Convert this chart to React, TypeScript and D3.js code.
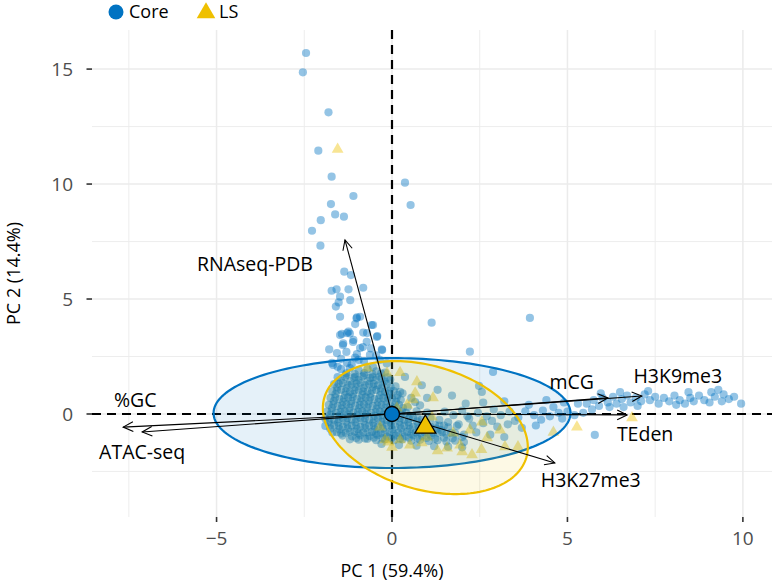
import React from 'react';
import * as d3 from 'd3';

// PCA scores (PC1, PC2)
const coreOutliers: [number, number][] = [
  [-2.45, 15.7], [-2.54, 14.86], [-1.81, 13.12], [-2.1, 11.45], [-1.72, 10.32], [0.37, 10.06],
  [-1.1, 9.48], [0.53, 9.09], [-1.74, 9.13], [-1.62, 8.68], [-1.37, 8.58], [-2.03, 8.43],
  [-2.28, 7.97], [-2.04, 7.32], [-1.36, 6.19], [-1.17, 6.04], [1.13, 3.97], [3.93, 4.18],
  [2.22, 2.71], [2.88, 1.83], [2.48, 1.22], [1.71, 0.8], [2.56, 0.96], [5.78, -0.91],
];

const coreUpperTail: [number, number][] = [
  [-1.72, 5.36], [-1.58, 5.42], [-1.24, 5.42], [-0.82, 5.49], [-1.48, 5.1], [-1.19, 4.95],
  [-1.6, 4.67], [-1.52, 4.85], [-1.0, 4.2], [-1.48, 4.23], [-1.01, 4.16], [-0.91, 4.23],
  [-1.05, 3.91], [-0.58, 3.87], [-1.43, 3.48], [-1.24, 3.58], [-0.82, 3.54], [-0.42, 3.39],
  [-1.79, 2.81], [-1.39, 3.07], [-1.1, 3.22], [-0.72, 3.14], [-0.29, 2.81], [-1.28, 3.52],
  [-0.71, 3.52], [-0.54, 3.87], [-1.11, 3.13], [-0.83, 2.91], [-0.28, 2.78], [-1.68, 2.13],
  [-0.54, 2.04], [-1.48, 3.43], [-1.2, 3.5], [-0.43, 3.35], [-1.4, 3.0], [-0.91, 2.87],
  [-0.63, 2.57], [-1.57, 2.65], [-1.28, 2.22], [-1.71, 2.22], [-1.05, 2.45], [-0.8, 2.3],
  [-0.35, 2.35], [-1.45, 2.4], [-0.15, 2.2], [0.37, 1.61], [0.23, 0.96], [0.66, 0.52],
  [1.0, 0.7], [1.3, 1.05], [0.85, 1.25], [-1.3, 2.7], [-1.0, 2.6], [-0.6, 2.85],
  [-1.15, 2.15], [-0.95, 2.35], [-0.45, 2.55], [-1.55, 2.05],
];

const coreBlob: [number, number][] = [
  [-1.45, 1.95], [-1.2, 2.0], [-0.95, 1.9], [-0.7, 1.95], [-0.45, 1.85], [-0.2, 1.8],
  [-1.55, 1.6], [-1.3, 1.7], [-1.05, 1.62], [-0.8, 1.68], [-0.55, 1.6], [-0.3, 1.55], [-0.05, 1.5],
  [-1.65, 1.3], [-1.4, 1.35], [-1.15, 1.28], [-0.9, 1.35], [-0.65, 1.3], [-0.4, 1.25], [-0.15, 1.3], [0.1, 1.2],
  [-1.7, 0.98], [-1.45, 1.05], [-1.2, 0.95], [-0.95, 1.02], [-0.7, 0.97], [-0.45, 1.04], [-0.2, 0.96], [0.05, 1.0], [0.3, 0.9],
  [-1.75, 0.7], [-1.5, 0.65], [-1.25, 0.72], [-1.0, 0.66], [-0.75, 0.72], [-0.5, 0.65], [-0.25, 0.7], [0.0, 0.68], [0.25, 0.62], [0.55, 0.7],
  [-1.8, 0.4], [-1.55, 0.35], [-1.3, 0.42], [-1.05, 0.36], [-0.8, 0.42], [-0.55, 0.35], [-0.3, 0.4], [-0.05, 0.34], [0.2, 0.4], [0.45, 0.3], [0.8, 0.38],
  [-1.85, 0.1], [-1.6, 0.05], [-1.35, 0.12], [-1.1, 0.06], [-0.85, 0.12], [-0.6, 0.05], [-0.35, 0.1], [-0.1, 0.04], [0.15, 0.1], [0.4, 0.05], [0.7, 0.12], [1.0, 0.06],
  [-1.9, -0.2], [-1.65, -0.25], [-1.4, -0.18], [-1.15, -0.24], [-0.9, -0.18], [-0.65, -0.25], [-0.4, -0.2], [-0.15, -0.26], [0.1, -0.2], [0.35, -0.25], [0.6, -0.18], [0.85, -0.24], [1.1, -0.2], [1.35, -0.26],
  [-1.9, -0.52], [-1.65, -0.48], [-1.4, -0.55], [-1.15, -0.5], [-0.9, -0.56], [-0.65, -0.5], [-0.4, -0.55], [-0.15, -0.48], [0.1, -0.55], [0.35, -0.5], [0.6, -0.56], [0.85, -0.5], [1.1, -0.56], [1.35, -0.5], [1.6, -0.58], [1.85, -0.52],
  [-1.7, -0.8], [-1.45, -0.85], [-1.2, -0.78], [-0.95, -0.85], [-0.7, -0.8], [-0.45, -0.86], [-0.2, -0.8], [0.05, -0.86], [0.3, -0.8], [0.55, -0.86], [0.8, -0.8], [1.05, -0.86], [1.3, -0.82], [1.55, -0.88], [1.8, -0.84], [2.05, -0.9],
  [-1.2, -1.1], [-0.95, -1.12], [-0.7, -1.08], [-0.45, -1.14], [-0.2, -1.1], [0.05, -1.15], [0.3, -1.1], [0.55, -1.16], [0.8, -1.12], [1.05, -1.18], [1.3, -1.14], [1.55, -1.2], [1.8, -1.16], [2.05, -1.22],
  [-0.3, -1.3], [0.2, -1.35], [0.7, -1.38], [1.2, -1.4], [1.6, -1.42], [2.0, -1.45],
  [-1.3, 1.77], [-1.06, 1.74], [-0.79, 1.78], [-0.56, 1.73], [-0.31, 1.76],
  [-1.46, 1.46], [-1.19, 1.43], [-0.96, 1.47], [-0.69, 1.44], [-0.46, 1.48], [-0.21, 1.42],
  [-1.56, 1.16], [-1.29, 1.13], [-1.04, 1.17], [-0.81, 1.14], [-0.54, 1.18], [-0.31, 1.12], [-0.04, 1.16],
  [-1.61, 0.86], [-1.34, 0.83], [-1.11, 0.87], [-0.84, 0.84], [-0.61, 0.88], [-0.34, 0.82], [-0.11, 0.86], [0.16, 0.83],
  [-1.66, 0.56], [-1.39, 0.53], [-1.16, 0.57], [-0.89, 0.54], [-0.66, 0.58], [-0.39, 0.52], [-0.16, 0.56], [0.11, 0.53],
  [-1.71, 0.26], [-1.44, 0.23], [-1.21, 0.27], [-0.94, 0.24], [-0.71, 0.28], [-0.44, 0.22], [-0.21, 0.26], [0.06, 0.23], [0.31, 0.27],
  [-1.76, -0.04], [-1.49, -0.07], [-1.26, -0.03], [-0.99, -0.06], [-0.76, -0.02], [-0.49, -0.08], [-0.26, -0.04], [0.01, -0.07], [0.26, -0.03], [0.51, -0.06],
  [-1.81, -0.34], [-1.54, -0.37], [-1.31, -0.33], [-1.04, -0.36], [-0.81, -0.32], [-0.54, -0.38], [-0.31, -0.34], [-0.04, -0.37], [0.21, -0.33], [0.46, -0.36], [0.71, -0.32], [0.96, -0.37],
  [-1.76, -0.64], [-1.49, -0.67], [-1.26, -0.63], [-0.99, -0.66], [-0.76, -0.62], [-0.49, -0.68], [-0.26, -0.64], [0.01, -0.67], [0.26, -0.63], [0.51, -0.66], [0.76, -0.62], [1.01, -0.67], [1.26, -0.64],
  [-1.41, -0.94], [-1.14, -0.97], [-0.91, -0.93], [-0.64, -0.96], [-0.41, -0.92], [-0.14, -0.98], [0.11, -0.94], [0.36, -0.97], [0.61, -0.93], [0.86, -0.96], [1.11, -0.95],
];

// extra overlapping scores in the darkest part of the cloud
const coreDense: [number, number][] = [
  [-1.33, 1.61], [-1.08, 1.58], [-0.84, 1.63], [-0.62, 1.57], [-0.36, 1.62], [-0.12, 1.59],
  [-1.52, 1.31], [-1.26, 1.27], [-1.01, 1.32], [-0.77, 1.26], [-0.52, 1.31], [-0.27, 1.28],
  [-1.57, 1.01], [-1.32, 0.98], [-1.07, 1.03], [-0.83, 0.99], [-0.57, 1.02], [-0.32, 0.97], [-0.07, 1.01],
  [-1.62, 0.71], [-1.37, 0.68], [-1.12, 0.73], [-0.87, 0.69], [-0.62, 0.72], [-0.37, 0.67], [-0.12, 0.71], [0.13, 0.69],
  [-1.67, 0.41], [-1.42, 0.38], [-1.17, 0.43], [-0.92, 0.39], [-0.67, 0.42], [-0.42, 0.37], [-0.17, 0.41], [0.08, 0.38],
  [-1.72, 0.11], [-1.47, 0.08], [-1.22, 0.13], [-0.97, 0.09], [-0.72, 0.12], [-0.47, 0.07], [-0.22, 0.11], [0.03, 0.08], [0.28, 0.12],
  [-1.77, -0.19], [-1.52, -0.22], [-1.27, -0.17], [-1.02, -0.21], [-0.77, -0.18], [-0.52, -0.23], [-0.27, -0.19], [-0.02, -0.22], [0.23, -0.18], [0.48, -0.21], [0.73, -0.19],
  [-1.77, -0.49], [-1.52, -0.52], [-1.27, -0.47], [-1.02, -0.51], [-0.77, -0.48], [-0.52, -0.53], [-0.27, -0.49], [-0.02, -0.52], [0.23, -0.48], [0.48, -0.51], [0.73, -0.49], [0.98, -0.53], [1.23, -0.48], [1.48, -0.51],
  [-1.57, -0.79], [-1.32, -0.82], [-1.07, -0.77], [-0.82, -0.81], [-0.57, -0.78], [-0.32, -0.83], [-0.07, -0.79], [0.18, -0.82], [0.43, -0.78], [0.68, -0.81], [0.93, -0.79], [1.18, -0.83], [1.43, -0.79], [1.68, -0.82],
  [-1.02, -1.04], [-0.77, -1.07], [-0.52, -1.03], [-0.27, -1.06], [-0.02, -1.04], [0.23, -1.07], [0.48, -1.03], [0.73, -1.06], [0.98, -1.04], [1.23, -1.07], [1.48, -1.03], [1.73, -1.06],
];

const coreBand: [number, number][] = [
  [1.5, 0.1], [1.75, -0.05], [2.0, 0.15], [2.2, -0.2], [2.45, 0.05], [2.7, -0.1], [2.9, 0.2],
  [3.1, -0.05], [3.35, 0.1], [3.6, -0.15], [3.8, 0.12], [4.05, -0.05], [4.3, 0.15], [4.5, -0.1],
  [4.75, 0.05], [5.0, 0.1], [5.2, -0.05], [1.6, -0.35], [1.9, -0.45], [2.3, -0.5], [2.6, -0.4],
  [3.0, -0.55], [3.3, -0.45], [3.7, -0.6], [4.1, -0.5], [2.4, -0.8], [2.8, -0.9], [3.2, -1.0],
  [2.1, 0.45], [2.6, 0.5], [3.2, 0.55], [3.9, 0.4], [4.4, 0.6], [4.9, 0.5], [5.3, 0.45],
  [4.6, 0.3], [5.45, 0.05], [1.4, -0.7], [2.0, -1.0], [2.15, -0.1], [2.85, -0.3], [3.5, -0.3],
  [4.25, -0.25], [4.85, -0.2],
];

const coreRightTail: [number, number][] = [
  [5.55, 0.45], [5.75, 0.6], [5.9, 0.35], [6.0, 0.7], [6.15, 0.5], [6.3, 0.75], [6.4, 0.45],
  [6.55, 0.65], [6.7, 0.8], [6.8, 0.5], [6.95, 0.7], [7.1, 0.55], [7.2, 0.85], [7.35, 0.6],
  [7.5, 0.75], [7.6, 0.45], [7.75, 0.7], [7.9, 0.55], [8.05, 0.8], [8.2, 0.6], [8.35, 0.45],
  [8.5, 0.7], [8.6, 0.55], [8.75, 0.8], [8.9, 0.6], [9.05, 0.5], [9.2, 0.75], [9.3, 1.05],
  [9.45, 0.85], [9.6, 0.65], [9.75, 0.75], [9.95, 0.45], [9.4, 0.55], [8.1, 0.4], [7.0, 0.35],
  [6.2, 0.3], [5.95, 0.9], [6.5, 0.95], [7.3, 1.0], [8.45, 0.95], [9.1, 0.95], [5.7, 0.2], [6.6, 0.3],
];

const lsPoints: [number, number][] = [
  [-1.55, 11.51], [0.23, 1.8], [0.71, 1.4], [1.17, 0.7], [0.66, 0.91], [-0.14, 1.78], [-0.7, 2.0],
  [0.14, 0.26], [0.43, 0.39], [-0.11, -1.22], [0.23, -1.13], [0.51, -1.35], [1.57, -1.48],
  [1.94, -1.35], [2.28, -1.78], [2.71, -1.04], [3.08, -0.7], [3.22, -1.43], [3.59, -1.43],
  [-0.34, -0.57], [1.74, -0.83], [1.0, -1.0], [2.22, -0.7], [2.56, -0.35], [1.14, -0.13],
  [0.6, 0.61], [0.85, -1.26], [-0.2, -1.13], [4.6, -0.8], [5.27, -0.57], [6.84, -0.17],
  [1.3, -1.6], [2.0, -1.65], [0.0, -1.45], [2.55, -1.55],
];

const corePoints = [...coreOutliers, ...coreUpperTail, ...coreBlob, ...coreDense, ...coreBand, ...coreRightTail];

// group centroids
const groupNames = ['Core', 'LS'];
const centroidX = [0.0, 0.95];
const centroidY = [0.0, -0.57];

// concentration ellipses: centre and covariance (PC units)
const ellipseCx = [0.0, 0.95];
const ellipseCy = [0.04, -0.59];
const ellipseSxx = [25.86, 8.53];
const ellipseSyy = [5.71, 8.36];
const ellipseSxy = [0.0, -2.48];

// variable loadings (arrow tips)
const varNames = ['RNAseq-PDB', '%GC', 'ATAC-seq', 'mCG', 'H3K9me3', 'TEden', 'H3K27me3'];
const loadPC1 = [-1.34, -7.66, -7.12, 6.15, 7.12, 6.7, 4.64];
const loadPC2 = [7.57, -0.57, -0.78, 0.7, 0.78, -0.04, -2.13];
const labelNudge: [number, number][] = [[-90, 24], [12, -27], [0, 20], [-36, -16], [36, -20], [18, 19], [36, 17]];

const xTicks = [-5, 0, 5, 10];
const yTicks = [0, 5, 10, 15];
const xMinor = [-7.5, -2.5, 2.5, 7.5];
const yMinor = [-2.5, 2.5, 7.5, 12.5];

const BLUE = '#0073C2';
const YELLOW = '#EFC000';
const FONT = "'Open Sans', sans-serif";

const W = 777;
const H = 585;
const left = 92, right = 772, top = 30, bottom = 517;

export default function App() {
  const x = d3.scaleLinear().domain([-8.55, 10.83]).range([left, right]);
  const y = d3.scaleLinear().domain([-4.48, 16.7]).range([bottom, top]);
  const fmt = d3.format('d');

  const ellipsePath = (i: number) => {
    const l11 = Math.sqrt(ellipseSxx[i]);
    const l21 = ellipseSxy[i] / l11;
    const l22 = Math.sqrt(ellipseSyy[i] - l21 * l21);
    const pts = d3.range(0, 2 * Math.PI, Math.PI / 90).map(t => [
      x(ellipseCx[i] + l11 * Math.cos(t)),
      y(ellipseCy[i] + l21 * Math.cos(t) + l22 * Math.sin(t)),
    ] as [number, number]);
    return d3.line().curve(d3.curveLinearClosed)(pts) || '';
  };

  const tri = d3.symbol().type(d3.symbolTriangle);
  const ellColors = [BLUE, YELLOW];

  return (
    <svg width={W} height={H} style={{ position: 'absolute', left: 0, top: 0, display: 'block', background: '#fff' }} fontFamily={FONT}>
      {/* grid */}
      <g stroke="#EBEBEB" fill="none">
        {xMinor.map(v => <line key={'xm' + v} x1={x(v)} x2={x(v)} y1={top} y2={bottom} strokeWidth={0.9} />)}
        {yMinor.map(v => <line key={'ym' + v} y1={y(v)} y2={y(v)} x1={left} x2={right} strokeWidth={0.9} />)}
        {xTicks.map(v => <line key={'xM' + v} x1={x(v)} x2={x(v)} y1={top} y2={bottom} strokeWidth={1.5} />)}
        {yTicks.map(v => <line key={'yM' + v} y1={y(v)} y2={y(v)} x1={left} x2={right} strokeWidth={1.5} />)}
      </g>

      {/* reference lines */}
      <g stroke="#000" strokeWidth={2.2} strokeDasharray="9,6">
        <line x1={left} x2={right} y1={y(0)} y2={y(0)} />
        <line x1={x(0)} x2={x(0)} y1={top} y2={bottom} />
      </g>

      {/* points */}
      <g fill={BLUE} fillOpacity={0.42}>
        {corePoints.map((p, i) => <circle key={'c' + i} cx={x(p[0])} cy={y(p[1])} r={4.1} />)}
      </g>
      <g fill={YELLOW} fillOpacity={0.42}>
        {lsPoints.map((p, i) => (
          <path key={'l' + i} d={tri.size(60)() || ''} transform={`translate(${x(p[0])},${y(p[1])})`} />
        ))}
      </g>

      {/* ellipses */}
      {groupNames.map((g, i) => (
        <path key={'e' + g} d={ellipsePath(i)} fill={ellColors[i]} fillOpacity={0.1} stroke={ellColors[i]} strokeWidth={2.2} />
      ))}

      {/* loading arrows */}
      <g stroke="#000" strokeWidth={1.1} fill="none">
        {varNames.map((v, i) => {
          const x0 = x(0), y0 = y(0);
          const x1 = x(loadPC1[i]), y1 = y(loadPC2[i]);
          const a = Math.atan2(y1 - y0, x1 - x0);
          const len = 11, spread = 0.45;
          const h1 = [x1 - len * Math.cos(a - spread), y1 - len * Math.sin(a - spread)];
          const h2 = [x1 - len * Math.cos(a + spread), y1 - len * Math.sin(a + spread)];
          return (
            <g key={'a' + v}>
              <line x1={x0} y1={y0} x2={x1} y2={y1} />
              <path d={`M${h1[0]},${h1[1]}L${x1},${y1}L${h2[0]},${h2[1]}`} />
            </g>
          );
        })}
      </g>
      <g fontSize={19.5} fill="#000" textAnchor="middle">
        {varNames.map((v, i) => (
          <text key={'t' + v} x={x(loadPC1[i]) + labelNudge[i][0]} y={y(loadPC2[i]) + labelNudge[i][1]} dy="0.35em">{v}</text>
        ))}
      </g>

      {/* centroids */}
      <circle cx={x(centroidX[0])} cy={y(centroidY[0])} r={7.5} fill={BLUE} stroke="#000" strokeWidth={1.3} />
      <path d={tri.size(190)() || ''} transform={`translate(${x(centroidX[1])},${y(centroidY[1])})`} fill={YELLOW} stroke="#000" strokeWidth={1.3} />

      {/* axes */}
      <g stroke="#333" strokeWidth={1.6}>
        {xTicks.map(v => <line key={'xt' + v} x1={x(v)} x2={x(v)} y1={bottom} y2={bottom + 5} />)}
        {yTicks.map(v => <line key={'yt' + v} x1={left - 5.5} x2={left} y1={y(v)} y2={y(v)} />)}
      </g>
      <g fontSize={19} fill="#4D4D4D">
        {xTicks.map(v => <text key={'xl' + v} x={x(v)} y={538} dy="0.35em" textAnchor="middle">{fmt(v)}</text>)}
        {yTicks.map(v => <text key={'yl' + v} x={73} y={y(v)} dy="0.35em" textAnchor="end">{fmt(v)}</text>)}
      </g>
      <text x={(left + right) / 2 - 40} y={571} dy="0.35em" textAnchor="middle" fontSize={18} fill="#000">PC 1 (59.4%)</text>
      <text transform={`translate(14,${(top + bottom) / 2}) rotate(-90)`} dy="0.35em" textAnchor="middle" fontSize={18} fill="#000">PC 2 (14.4%)</text>

      {/* legend */}
      <circle cx={116} cy={12} r={7.5} fill={BLUE} />
      <text x={129} y={12} dy="0.35em" fontSize={18} fill="#000">{groupNames[0]}</text>
      <path d={tri.size(150)() || ''} transform="translate(206,13)" fill={YELLOW} />
      <text x={219} y={12} dy="0.35em" fontSize={18} fill="#000">{groupNames[1]}</text>
    </svg>
  );
}
